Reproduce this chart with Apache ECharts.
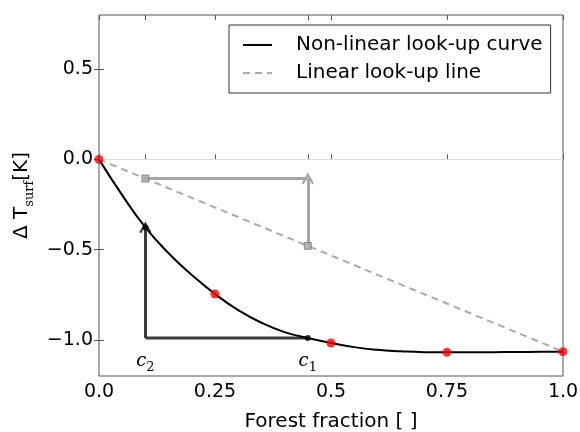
<!DOCTYPE html>
<html>
<head>
<meta charset="utf-8">
<script src="https://cdn.jsdelivr.net/npm/echarts@6/dist/echarts.min.js"></script>
<style>
  html, body { margin: 0; padding: 0; background: #fff; }
  #chart { width: 580px; height: 432px; }
</style>
</head>
<body>
<div id="chart"></div>
<script>
// non-linear look-up curve
const curveX = [0, 0.05, 0.1, 0.15, 0.2, 0.25, 0.3, 0.35, 0.4, 0.45, 0.5, 0.55, 0.6, 0.65, 0.7, 0.75, 0.8, 0.85, 0.9, 0.95, 1.0]
const curveY = [0, -0.198, -0.377, -0.52, -0.64, -0.746, -0.835, -0.905, -0.957, -0.99, -1.017, -1.04, -1.055, -1.063, -1.068, -1.069, -1.069, -1.068, -1.067, -1.066, -1.065]
// linear look-up line
const linearX = [0, 1.0]
const linearY = [0, -1.065]
// sampled points (red)
const sampleX = [0, 0.25, 0.5, 0.75, 1.0]
const sampleY = [0, -0.746, -1.017, -1.069, -1.065]
// look-up positions c2, c1
const lookupX = [0.1, 0.45]
const lookupNames = ['2', '1']
const curveAtLookup = [-0.377, -0.99]
const lineAtLookup = [-0.106, -0.479]
// axis ticks
const xTicks = [0, 0.1, 0.25, 0.45, 0.5, 0.75, 1.0]
const xLabels = [0, 0.25, 0.5, 0.75, 1.0]
const xLabelText = ['0.0', '0.25', '0.5', '0.75', '1.0']
const yTicks = [-1.0, -0.5, 0, 0.5]

const frame = '#555'
const font = 'DejaVu Sans'
// open arrow head, pointing up
const chevron = 'path://M0,10 L7,0 L14,10 L12,11.5 L7,4 L2,11.5 Z'

const chart = echarts.init(document.getElementById('chart'))

const tickStyle = { show: true, inside: true, length: 5, lineStyle: { color: frame, width: 1 } }

chart.setOption({
  animation: false,
  grid: {
    left: 99, right: 17, top: 15, bottom: 56,
    containLabel: false, outerBoundsMode: 'none',
    show: true, borderColor: frame, borderWidth: 1, backgroundColor: 'transparent'
  },
  legend: {
    left: 229, top: 25,
    orient: 'vertical',
    data: ['Non-linear look-up curve', 'Linear look-up line'],
    backgroundColor: '#fff',
    borderColor: '#333', borderWidth: 1, borderRadius: 0,
    padding: [10, 8, 10, 13],
    itemWidth: 29, itemHeight: 14, itemGap: 8,
    itemStyle: { color: 'transparent', borderWidth: 0, opacity: 0 },
    textStyle: { fontFamily: font, fontSize: 20, color: '#000', padding: [0, 0, 0, 19] }
  },
  xAxis: [{
    type: 'value', position: 'bottom', min: 0, max: 1,
    name: 'Forest fraction [ ]', nameLocation: 'middle', nameGap: 36,
    nameTextStyle: { fontFamily: font, fontSize: 20, color: '#000' },
    axisLine: { show: false },
    axisTick: Object.assign({}, tickStyle, { customValues: xTicks }),
    axisLabel: {
      customValues: xLabels, margin: 7,
      fontFamily: font, fontSize: 19, color: '#000',
      formatter: v => xLabelText[xLabels.indexOf(v)]
    },
    splitLine: { show: false }
  }, {
    // c labels inside the plot
    type: 'value', position: 'bottom', min: 0, max: 1,
    axisLine: { show: false }, axisTick: { show: false }, splitLine: { show: false },
    axisLabel: {
      inside: true, margin: 2, customValues: lookupX,
      formatter: v => '{c|c}{s|' + lookupNames[lookupX.indexOf(v)] + '}',
      rich: {
        c: { fontFamily: 'DejaVu Serif', fontStyle: 'italic', fontSize: 18, color: '#000', lineHeight: 22, verticalAlign: 'top' },
        s: { fontFamily: 'DejaVu Serif', fontSize: 13, color: '#000', lineHeight: 22, verticalAlign: 'bottom' }
      }
    }
  }, {
    type: 'value', position: 'top', min: 0, max: 1,
    axisLine: { show: false }, axisLabel: { show: false }, splitLine: { show: false },
    axisTick: Object.assign({}, tickStyle, { customValues: xTicks })
  }],
  yAxis: [{
    type: 'value', position: 'left', min: -1.2, max: 0.8,
    name: 'Δ T{sub|surf}[K]', nameLocation: 'middle', nameGap: 57, nameRotate: 90,
    nameTextStyle: {
      fontFamily: font, fontSize: 20, color: '#000', lineHeight: 28,
      rich: { sub: { fontFamily: 'DejaVu Serif', fontSize: 13, color: '#000', lineHeight: 28, verticalAlign: 'bottom' } }
    },
    axisLine: { show: false },
    axisTick: Object.assign({}, tickStyle, { customValues: yTicks }),
    axisLabel: {
      customValues: yTicks, margin: 6,
      fontFamily: font, fontSize: 19, color: '#000',
      formatter: v => v.toFixed(1).replace('-', '\u2212')
    },
    splitLine: { show: false }
  }, {
    type: 'value', position: 'right', min: -1.2, max: 0.8,
    axisLine: { show: false }, axisLabel: { show: false }, splitLine: { show: false },
    axisTick: Object.assign({}, tickStyle, { customValues: yTicks })
  }],
  series: [
    {
      name: 'Non-linear look-up curve',
      type: 'line', smooth: true, showSymbol: false, symbol: 'none',
      data: curveX.map((x, i) => [x, curveY[i]]),
      lineStyle: { color: '#000', width: 2 },
      itemStyle: { color: '#000' },
      z: 4,
      markLine: {
        silent: true, symbol: 'none', label: { show: false },
        lineStyle: { color: '#dcdcdc', width: 1, type: 'solid' },
        data: [{ yAxis: 0 }]
      }
    },
    {
      name: 'Linear look-up line',
      type: 'line', showSymbol: false, symbol: 'none',
      data: linearX.map((x, i) => [x, linearY[i]]),
      lineStyle: { color: '#aaaaaa', width: 2, type: [7, 5] },
      itemStyle: { color: '#aaaaaa' },
      z: 3
    },
    // grey look-up: from line at c1 up, then across to c2
    {
      type: 'line', showSymbol: false, symbol: 'none', silent: true,
      data: [[lookupX[0], lineAtLookup[0]], [lookupX[1], lineAtLookup[0]]],
      lineStyle: { color: '#a6a6a6', width: 3 }, z: 3
    },
    {
      type: 'lines', coordinateSystem: 'cartesian2d', silent: true,
      symbol: ['none', chevron], symbolSize: [14, 12],
      data: [{ coords: [[lookupX[1], lineAtLookup[1]], [lookupX[1], lineAtLookup[0]]] }],
      lineStyle: { color: '#a6a6a6', width: 3, opacity: 1 }, z: 3
    },
    // dark look-up: from curve at c1 across to c2, then up to the curve
    {
      type: 'line', showSymbol: false, symbol: 'none', silent: true,
      data: [[lookupX[1], curveAtLookup[1]], [lookupX[0], curveAtLookup[1]]],
      lineStyle: { color: '#3c3c3c', width: 3 }, z: 3
    },
    {
      type: 'lines', coordinateSystem: 'cartesian2d', silent: true,
      symbol: ['none', chevron], symbolSize: [14, 12],
      data: [{ coords: [[lookupX[0], curveAtLookup[1]], [lookupX[0], curveAtLookup[0]]] }],
      lineStyle: { color: '#3c3c3c', width: 3, opacity: 1 }, z: 3
    },
    {
      type: 'scatter', symbol: 'rect', symbolSize: 7, clip: false, silent: true,
      data: lookupX.map((x, i) => [x, lineAtLookup[i]]),
      itemStyle: { color: '#a6a6a6', borderColor: '#777', borderWidth: 1 }, z: 5
    },
    {
      type: 'scatter', symbolSize: 6, clip: false, silent: true,
      data: lookupX.map((x, i) => [x, curveAtLookup[i]]),
      itemStyle: { color: '#000' }, z: 6
    },
    {
      type: 'scatter', symbolSize: 9, clip: false, silent: true,
      data: sampleX.map((x, i) => [x, sampleY[i]]),
      itemStyle: { color: '#ff0000' }, z: 6
    }
  ]
})
</script>
</body>
</html>
